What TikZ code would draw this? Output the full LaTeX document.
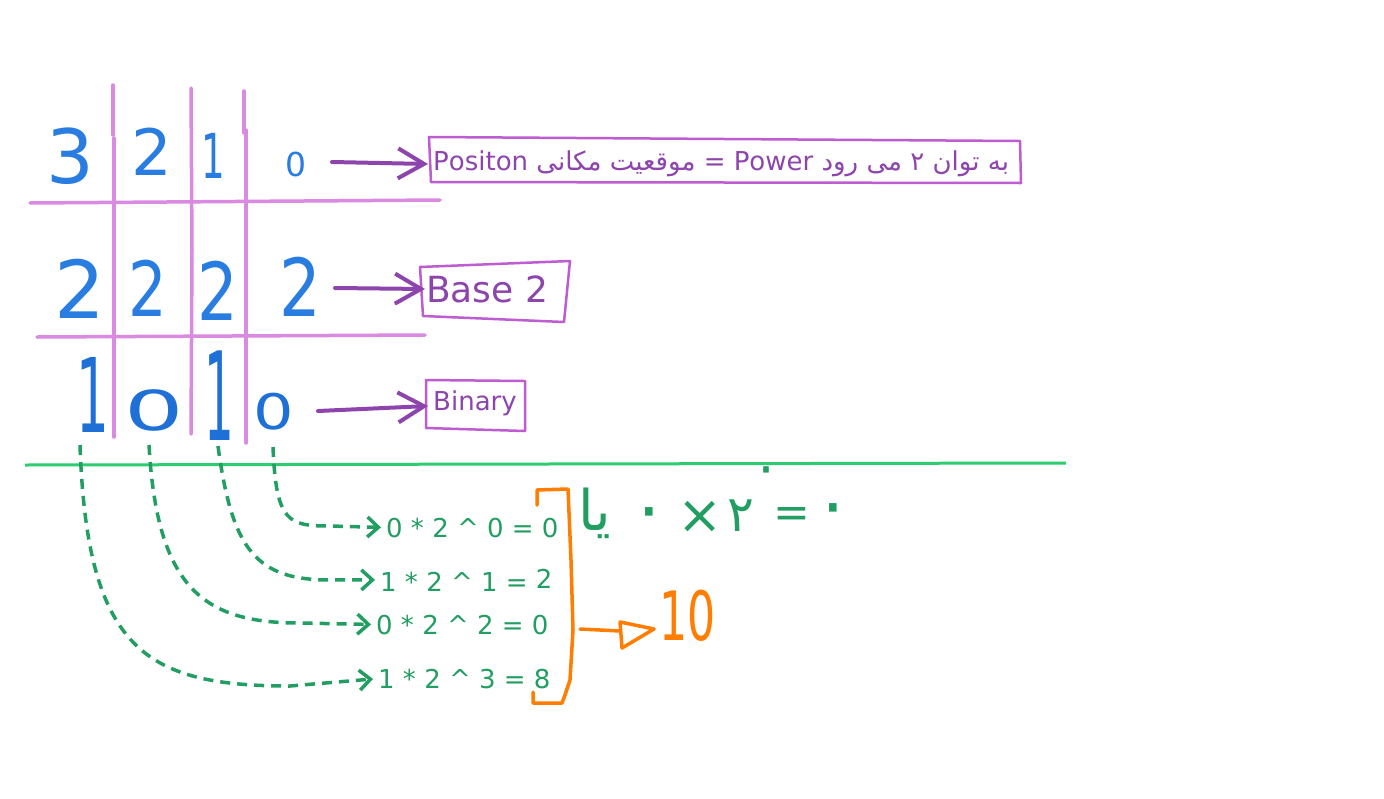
\documentclass[tikz,border=0pt]{standalone}
\usepackage{fontspec}
\usepackage{graphicx}
\setmainfont{DejaVu Sans}
\newfontfamily\arabicfont[Script=Arabic]{DejaVu Sans}
\TeXXeTstate=1
\usetikzlibrary{arrows.meta}
\definecolor{gridpink}{RGB}{219,138,226}
\definecolor{digblue}{RGB}{42,125,224}
\definecolor{digblue2}{RGB}{30,112,214}
\definecolor{purp}{RGB}{142,68,173}
\definecolor{boxpurp}{RGB}{190,92,210}
\definecolor{eqgreen}{RGB}{34,158,98}
\definecolor{sepgreen}{RGB}{46,204,113}
\definecolor{orng}{RGB}{255,125,0}
\newcommand{\fs}[1]{\fontsize{#1}{#1}\selectfont}
\tikzset{
  gridline/.style={draw=gridpink, line width=3.5pt, line cap=round},
  digit/.style={text=digblue, inner sep=0pt, anchor=base},
  labelbox/.style={draw=boxpurp, line width=2.5pt, line join=round},
  labeltext/.style={text=purp, inner sep=0pt, anchor=base west},
  parrow/.style={draw=purp, line width=4pt, line cap=round,
    -{Straight Barb[length=26pt,width=30pt,line width=4pt]}},
  eqtext/.style={text=eqgreen, inner sep=0pt, anchor=base west, font=\fs{26}},
  garrow/.style={draw=eqgreen, line width=3.5pt, dash pattern=on 10pt off 7pt,
    -{Straight Barb[length=11pt,width=20pt,line width=3.5pt]}, shorten >=5pt},
  note/.style={text=eqgreen, inner sep=0pt},
  orangeline/.style={draw=orng, line width=3.5pt, line cap=round, line join=round},
}
\begin{document}
\begin{tikzpicture}[x=1pt,y=-1pt]
\useasboundingbox[fill=white] (0,0) rectangle (1384,798);

% grid lines
\draw[gridline] (113,85) -- (113,135);
\draw[gridline] (114,138) -- (114,437);
\draw[gridline] (191,88) -- (192,250) -- (191,434);
\draw[gridline] (244,91) -- (244,133);
\draw[gridline] (246,130) -- (246,443);
\draw[gridline] (30,203) -- (440,200);
\draw[gridline] (37,337) -- (425,335);

% row 1: positions
\node[digit, font=\fs{75}] (p3) at (70,183) {3};
\node[digit, font=\fs{64}] (p2) at (152,175) {2};
\node[digit, font=\fs{62}] (p1) at (213,178) {\scalebox{0.6}[1]{1}};
\node[digit, font=\fs{33}] (p0) at (296,176) {0};
% row 2: base
\node[digit, font=\fs{80}] (b3) at (80,318) {2};
\node[digit, font=\fs{76}] (b2) at (148,316) {\scalebox{0.8}[1]{2}};
\node[digit, font=\fs{80}] (b1) at (218,320) {\scalebox{0.8}[1]{2}};
\node[digit, font=\fs{80}] (b0) at (300,316) {\scalebox{0.82}[1]{2}};
% row 3: binary
\node[digit, text=digblue2, font=\fs{103}] (n3) at (93,432) {\scalebox{0.5}[1]{1}};
\node[digit, text=digblue2, font=\fs{55}] (n2) at (154,430) {\scalebox{1.7}[1]{0}};
\node[digit, text=digblue2, font=\fs{123}] (n1) at (219,440) {\scalebox{0.38}[1]{1}};
\node[digit, text=digblue2, font=\fs{49}] (n0) at (274,429) {\scalebox{1.3}[1]{0}};

% label boxes
\draw[labelbox] (429,137) -- (1020,141) -- (1021,183) -- (431,182) -- cycle;
\node[labeltext, font=\fs{26}] (lpos) at (433,170)
  {\arabicfont\beginR به توان ۲ می رود \beginL Power\endL{} = موقعیت مکانی \beginL Positon\endL\endR};
\draw[labelbox] (420,267) -- (570,261) -- (564,322) -- (423,316) -- cycle;
\node[labeltext, font=\fs{36}] (lbase) at (426,302) {Base 2};
\draw[labelbox] (426,380) -- (525,381) -- (525,431) -- (426,428) -- cycle;
\node[labeltext, font=\fs{26}] (lbin) at (433,410) {Binary};

% purple arrows
\coordinate (a1s) at (332,162); \coordinate (a1e) at (428,164);
\coordinate (a2s) at (335,288); \coordinate (a2e) at (425,289);
\coordinate (a3s) at (318,411); \coordinate (a3e) at (428,406);
\draw[parrow] (a1s) -- (a1e);
\draw[parrow] (a2s) -- (a2e);
\draw[parrow] (a3s) -- (a3e);

% separator
\draw[draw=sepgreen, line width=3pt] (25,465) -- (1066,463);

% equations
\node[eqtext] (e0) at (386,537) {0 * 2 \^{} 0 = 0};
\node[eqtext] (e1) at (380,591) {1 * 2 \^{} 1 = \raisebox{3pt}{2}};
\node[eqtext] (e2) at (376,634) {0 * 2 \^{} 2 = 0};
\node[eqtext] (e3) at (378,688) {1 * 2 \^{} 3 = 8};

% dashed connectors
\coordinate (s0) at (273,447);
\coordinate (s1) at (218,446);
\coordinate (s2) at (149,445);
\coordinate (s3) at (80,445);
\draw[garrow] (s0) .. controls (276,522) and (288,526) .. (330,526) -- (e0.west);
\draw[garrow] (s1) .. controls (232,550) and (256,580) .. (330,580) -- (e1.west);
\draw[garrow] (s2) .. controls (157,590) and (205,623) .. (300,623) -- (e2.west);
\draw[garrow] (s3) .. controls (87,650) and (145,686) .. (290,686) -- (e3.west);

% handwritten persian note
\node[note, anchor=base west, font=\fs{56}\arabicfont] (nya) at (578,530) {\beginR یا\endR};
\node[note, font=\fs{70}\arabicfont] (nz1) at (649,520) {۰};
\node[note, font=\fs{54}] (nx) at (700,517) {×};
\node[note, font=\fs{50}\arabicfont] (ntwo) at (741,516) {۲};
\node[note, font=\fs{52}\arabicfont] (nsup) at (766,476) {۰};
\node[note, font=\fs{44}] (neq) at (792,518) {=};
\node[note, font=\fs{70}\arabicfont] (nz2) at (833,516) {۰};

% orange bracket and result
\draw[orangeline] (537,505) -- (537,490) -- (568,489) -- (571,560) -- (573,630)
  -- (570,680) -- (565,695) -- (562,703) -- (533,703) -- (533,692);
\coordinate (ob) at (580,629);
\coordinate (ot) at (620,631);
\draw[orangeline] (ob) -- (ot);
\draw[orangeline] (620,622) -- (654,629) -- (622,648) -- cycle;
\node[text=orng, inner sep=0pt, anchor=base, font=\fs{68}] (res) at (688,640)
  {\scalebox{0.65}[1]{10}};
\end{tikzpicture}
\end{document}
